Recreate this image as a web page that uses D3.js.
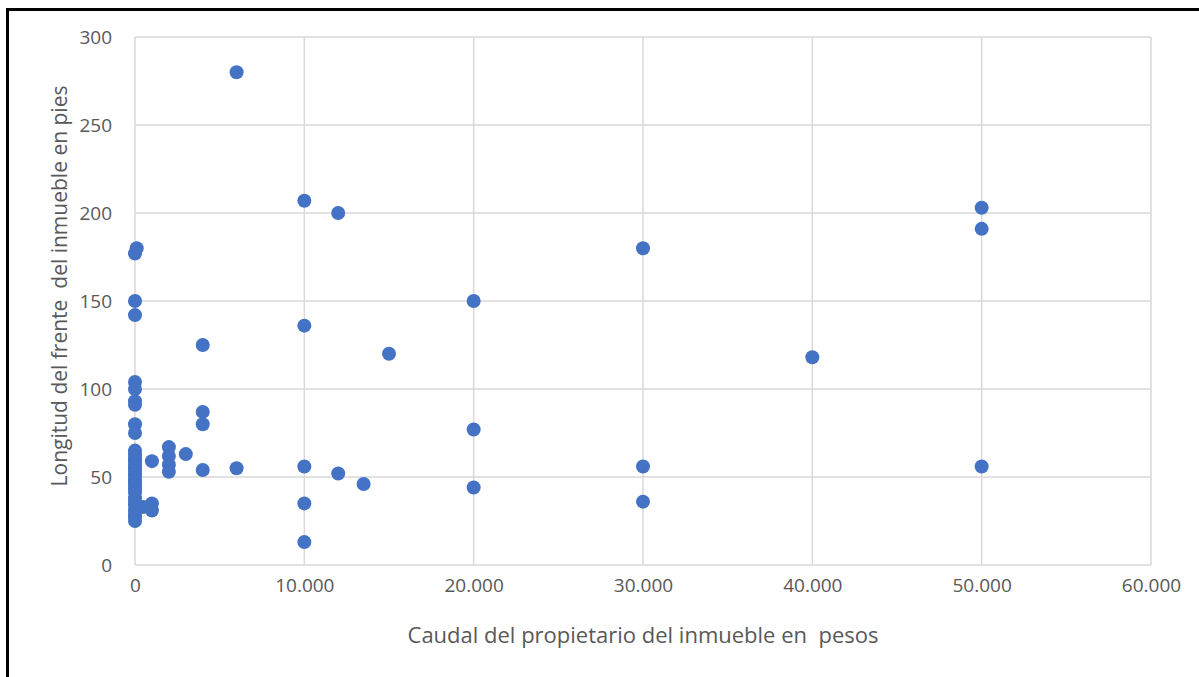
<!DOCTYPE html>
<html>
<head>
<meta charset="utf-8">
<script src="https://cdn.jsdelivr.net/npm/d3@7"></script>
<style>
  html, body { margin: 0; padding: 0; background: #ffffff; }
  svg { display: block; }
  .title { white-space: pre; }
</style>
</head>
<body>
<svg id="chart" width="1199" height="677"></svg>
<script>
// Owner's wealth (pesos) and property frontage (feet), one entry per property
const caudal = [
  6000, 10000, 12000, 30000, 50000, 50000, 20000, 10000, 15000, 4000, 40000,
  4000, 4000, 20000, 2000, 2000, 2000, 2000, 3000, 1000, 4000, 6000, 10000,
  12000, 13500, 20000, 30000, 50000, 10000, 30000, 10000, 1000, 1000, 500,
  100, 0, 0, 0, 0, 0, 0, 0, 0, 0,
  0, 0, 0, 0, 0, 0, 0, 0, 0, 0, 0, 0, 0, 0, 0, 0, 0, 0, 0, 0
];
const frente = [
  280, 207, 200, 180, 203, 191, 150, 136, 120, 125, 118,
  87, 80, 77, 67, 62, 57, 53, 63, 59, 54, 55, 56,
  52, 46, 44, 56, 56, 35, 36, 13, 35, 31, 33,
  180, 177, 150, 142, 104, 100, 93, 91, 80, 75,
  65, 63, 61, 59, 57, 55, 53, 51, 49, 47, 45, 43, 41, 38, 36, 34, 31, 29, 27, 25
];

const xTicks = [0, 10000, 20000, 30000, 40000, 50000, 60000];
const yTicks = [0, 50, 100, 150, 200, 250, 300];
const xTitle = "Caudal del propietario del inmueble en  pesos";
const yTitle = "Longitud del frente  del inmueble en pies";

const svg = d3.select("#chart");
const font = "'Open Sans', sans-serif";

// outer frame
svg.append("rect")
  .attr("x", 7.5).attr("y", 9.5)
  .attr("width", 1300).attr("height", 800)
  .attr("fill", "none").attr("stroke", "#000").attr("stroke-width", 3);

const x = d3.scaleLinear().domain([0, 60000]).range([135, 1151]);
const y = d3.scaleLinear().domain([0, 300]).range([565, 37]);

const fmt = v => d3.format(",")(v).replace(/,/g, ".");

// gridlines
const grid = svg.append("g");
grid.selectAll("line.h").data(yTicks).join("line")
  .attr("x1", x(0)).attr("x2", x(60000))
  .attr("y1", d => y(d)).attr("y2", d => y(d))
  .attr("stroke", "#d9d9d9").attr("stroke-width", 1.5);
grid.selectAll("line.v").data(xTicks).join("line")
  .attr("y1", y(0)).attr("y2", y(300))
  .attr("x1", d => x(d)).attr("x2", d => x(d))
  .attr("stroke", "#d9d9d9").attr("stroke-width", 1.5);

// axes (labels only, lines drawn as grid)
const xAxis = svg.append("g")
  .attr("transform", `translate(0,${y(0) + 10})`)
  .call(d3.axisBottom(x).tickValues(xTicks).tickFormat(fmt).tickSize(0));
xAxis.select(".domain").remove();
xAxis.selectAll("text")
  .attr("font-family", font).attr("font-size", 19).attr("fill", "#595959").attr("dy", "0.75em");

const yAxis = svg.append("g")
  .attr("transform", `translate(${x(0) - 20},0)`)
  .call(d3.axisLeft(y).tickValues(yTicks).tickSize(0));
yAxis.select(".domain").remove();
yAxis.selectAll("text")
  .attr("font-family", font).attr("font-size", 19).attr("fill", "#595959").attr("dy", "0.35em");

// points
svg.append("g").selectAll("circle")
  .data(d3.zip(caudal, frente)).join("circle")
  .attr("cx", d => x(d[0])).attr("cy", d => y(d[1]))
  .attr("r", 7).attr("fill", "#4472c4");

// axis titles
svg.append("text")
  .attr("class", "title")
  .attr("x", 643).attr("y", 635).attr("dy", "0.35em")
  .attr("text-anchor", "middle")
  .attr("font-family", font).attr("font-size", 22).attr("fill", "#595959")
  .text(xTitle);

svg.append("text")
  .attr("class", "title")
  .attr("transform", "translate(60,286) rotate(-90)")
  .attr("dy", "0.35em")
  .attr("text-anchor", "middle")
  .attr("font-family", font).attr("font-size", 21).attr("fill", "#595959")
  .text(yTitle);
</script>
</body>
</html>
